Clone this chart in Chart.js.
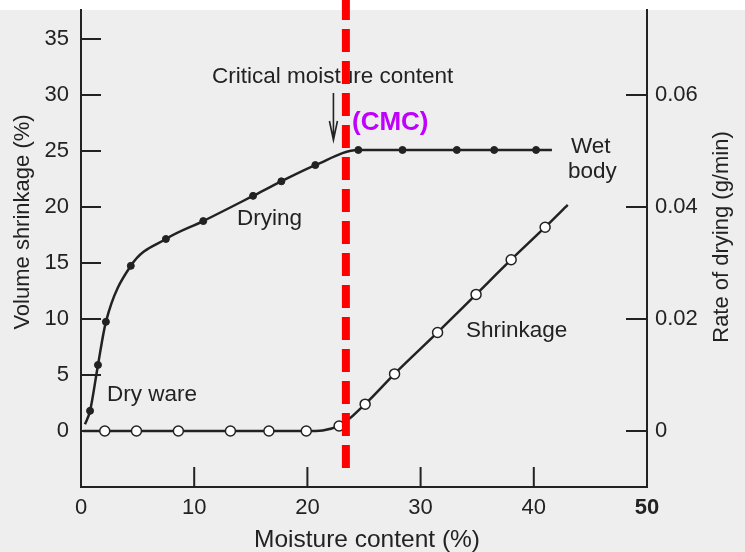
<!DOCTYPE html>
<html>
<head>
<meta charset="utf-8">
<script src="https://cdn.jsdelivr.net/npm/chart.js@4.4.0/dist/chart.umd.min.js"></script>
<style>
  html, body { margin: 0; padding: 0; background: #fff; }
  #wrap { width: 745px; height: 552px; }
</style>
</head>
<body>
<div id="wrap"><canvas id="chart" width="745" height="552"></canvas></div>
<script>
// Drying curve (filled dots): moisture content (%) vs rate of drying (g/min)
const dryingMoisture = [0.35, 0.8, 1.5, 2.2, 4.4, 7.5, 10.8, 15.2, 17.7, 20.7, 24.5, 28.4, 33.2, 36.5, 40.2, 41.6];
const dryingRate = [0.0012, 0.0036, 0.0118, 0.0195, 0.0295, 0.0343, 0.0375, 0.042, 0.0446, 0.0475, 0.0502, 0.0502, 0.0502, 0.0502, 0.0502, 0.0502];

// Shrinkage curve (open circles): moisture content (%) vs volume shrinkage (%)
const shrinkMoisture = [0.2, 2.1, 4.9, 8.6, 13.2, 16.6, 19.9, 22.8, 25.1, 27.7, 31.5, 34.9, 38.0, 41.0, 43.0];
const shrinkVolume = [0, 0, 0, 0, 0, 0, 0, 0.45, 2.4, 5.1, 8.8, 12.2, 15.3, 18.2, 20.2];

// tick labels
const xTicks = [0, 10, 20, 30, 40, 50];
const shrinkTicks = [0, 5, 10, 15, 20, 25, 30, 35];
const rateTicks = [0, 0.02, 0.04, 0.06];

// critical moisture content marker
const cmcMoisture = 23.4;

const FONT = 'Liberation Sans';
const INK = '#222';

function toPoints(xs, ys) {
  return xs.map((x, i) => ({ x: x, y: ys[i] }));
}

// no marker on the free ends of each curve
function endRadius(r) {
  return (ctx) => {
    const n = ctx.dataset.data.length;
    return (ctx.dataIndex === 0 || ctx.dataIndex === n - 1) ? 0 : r;
  };
}

// keep the plot box where the scan has it
function noPad(s) {
  s.paddingTop = 0;
  s.paddingBottom = 0;
  s.paddingLeft = 0;
  s.paddingRight = 0;
}

const paperPlugin = {
  id: 'paper',
  beforeDraw(chart) {
    const ctx = chart.ctx;
    ctx.save();
    ctx.fillStyle = '#eeeeee';
    ctx.fillRect(0, 0, chart.width, chart.height);
    ctx.fillStyle = '#ffffff';
    ctx.fillRect(0, 0, chart.width, 10);
    ctx.restore();
  },
  beforeDatasetsDraw(chart) {
    const ctx = chart.ctx;
    const { x, yShrink, yRate } = chart.scales;
    ctx.save();
    ctx.strokeStyle = INK;
    ctx.lineWidth = 2;
    // inward tick marks
    ctx.beginPath();
    shrinkTicks.forEach(v => {
      const py = yShrink.getPixelForValue(v);
      ctx.moveTo(yShrink.right, py);
      ctx.lineTo(yShrink.right + 20, py);
    });
    rateTicks.forEach(v => {
      const py = yRate.getPixelForValue(v);
      ctx.moveTo(yRate.left, py);
      ctx.lineTo(yRate.left - 21, py);
    });
    xTicks.slice(1, -1).forEach(v => {
      const px = x.getPixelForValue(v);
      ctx.moveTo(px, x.top);
      ctx.lineTo(px, x.top - 20);
    });
    ctx.stroke();

    // arrow to the critical moisture content
    const ax = x.getPixelForValue(22.3);
    ctx.lineWidth = 1.6;
    ctx.beginPath();
    ctx.moveTo(ax, 93);
    ctx.lineTo(ax, 140);
    ctx.moveTo(ax - 4, 121);
    ctx.lineTo(ax, 140);
    ctx.lineTo(ax + 4, 121);
    ctx.stroke();

    // labels
    ctx.fillStyle = INK;
    ctx.textBaseline = 'middle';
    ctx.textAlign = 'left';
    ctx.font = '22.5px "' + FONT + '"';
    ctx.fillText('Critical moisture content', 212, 77);
    ctx.fillText('Drying', 237, 219);
    ctx.fillText('Wet', 571, 147);
    ctx.fillText('body', 568, 172);
    ctx.fillText('Shrinkage', 466, 331);
    ctx.fillText('Dry ware', 107, 395);

    // axis titles
    ctx.textAlign = 'center';
    ctx.font = '24.5px "' + FONT + '"';
    ctx.fillText('Moisture content (%)', 367, 540);
    ctx.font = '22px "' + FONT + '"';
    ctx.save();
    ctx.translate(23, 222);
    ctx.rotate(-Math.PI / 2);
    ctx.fillText('Volume shrinkage (%)', 0, 0);
    ctx.restore();
    ctx.save();
    ctx.translate(722, 237);
    ctx.rotate(-Math.PI / 2);
    ctx.fillText('Rate of drying (g/min)', 0, 0);
    ctx.restore();
    ctx.restore();
  },
  afterDraw(chart) {
    const ctx = chart.ctx;
    const px = chart.scales.x.getPixelForValue(cmcMoisture);
    ctx.save();
    ctx.strokeStyle = '#ff0000';
    ctx.lineWidth = 8;
    ctx.setLineDash([23, 9]);
    ctx.beginPath();
    ctx.moveTo(px, -3);
    ctx.lineTo(px, 468);
    ctx.stroke();
    ctx.setLineDash([]);
    ctx.fillStyle = '#c000ff';
    ctx.font = 'bold 26px "' + FONT + '"';
    ctx.textAlign = 'left';
    ctx.textBaseline = 'middle';
    ctx.fillText('(CMC)', 352, 123);
    ctx.restore();
  }
};

new Chart(document.getElementById('chart'), {
  type: 'line',
  plugins: [paperPlugin],
  data: {
    datasets: [
      {
        label: 'Drying',
        data: toPoints(dryingMoisture, dryingRate),
        yAxisID: 'yRate',
        borderColor: INK,
        borderWidth: 2.5,
        backgroundColor: INK,
        pointBackgroundColor: INK,
        pointBorderColor: INK,
        pointRadius: endRadius(3.5),
        pointBorderWidth: 1,
        cubicInterpolationMode: 'monotone',
        fill: false
      },
      {
        label: 'Shrinkage',
        data: toPoints(shrinkMoisture, shrinkVolume),
        yAxisID: 'yShrink',
        borderColor: INK,
        borderWidth: 2.5,
        pointBackgroundColor: '#ffffff',
        pointBorderColor: INK,
        pointRadius: endRadius(5),
        pointBorderWidth: 1.5,
        cubicInterpolationMode: 'monotone',
        fill: false
      }
    ]
  },
  options: {
    responsive: false,
    animation: false,
    layout: { padding: { top: 10, left: 0, right: 0, bottom: 0 } },
    plugins: {
      legend: { display: false },
      tooltip: { enabled: false }
    },
    scales: {
      x: {
        type: 'linear',
        position: 'bottom',
        min: 0,
        max: 50,
        afterFit: (s) => { s.height = 65; noPad(s); },
        afterBuildTicks: (s) => { s.ticks = xTicks.map(v => ({ value: v })); },
        grid: { display: false, drawTicks: false },
        border: { display: true, color: INK, width: 2 },
        ticks: {
          color: INK,
          padding: 8,
          maxRotation: 0,
          font: (c) => ({ family: FONT, size: 22, weight: (c.tick && c.tick.value === 50) ? 'bold' : 'normal' })
        }
      },
      yShrink: {
        type: 'linear',
        position: 'left',
        min: -5,
        max: 37.6,
        afterFit: (s) => { s.width = 81; noPad(s); },
        afterBuildTicks: (s) => { s.ticks = shrinkTicks.map(v => ({ value: v })); },
        grid: { display: false, drawTicks: false },
        border: { display: true, color: INK, width: 2 },
        ticks: { color: INK, padding: 12, font: { family: FONT, size: 22 } }
      },
      yRate: {
        type: 'linear',
        position: 'right',
        min: -0.01,
        max: 0.0752,
        afterFit: (s) => { s.width = 98; noPad(s); },
        afterBuildTicks: (s) => { s.ticks = rateTicks.map(v => ({ value: v })); },
        grid: { display: false, drawTicks: false },
        border: { display: true, color: INK, width: 2 },
        ticks: {
          color: INK,
          padding: 8,
          font: { family: FONT, size: 22 },
          callback: (v) => v === 0 ? '0' : v.toFixed(2)
        }
      }
    }
  }
});
</script>
</body>
</html>
